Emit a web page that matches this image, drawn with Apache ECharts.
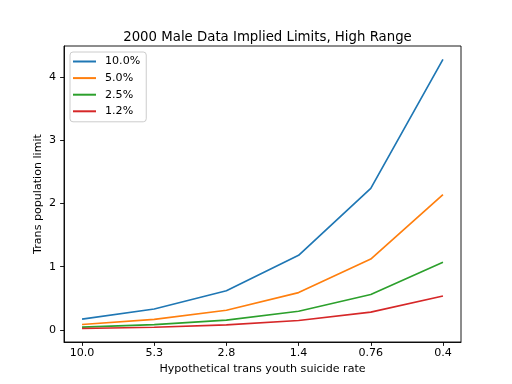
<!DOCTYPE html>
<html>
<head>
<meta charset="utf-8">
<script src="https://cdn.jsdelivr.net/npm/echarts@6/dist/echarts.min.js"></script>
<style>html,body{margin:0;padding:0;background:#fff;}#c{width:512px;height:384px;}</style>
</head>
<body>
<div id="c"></div>
<script>
var categories = ['10.0', '5.3', '2.8', '1.4', '0.76', '0.4'];
var seriesNames = ['10.0%', '5.0%', '2.5%', '1.2%'];
var s10 = [0.17, 0.33, 0.62, 1.18, 2.24, 4.28];
var s5 = [0.085, 0.165, 0.31, 0.59, 1.12, 2.14];
var s25 = [0.043, 0.083, 0.155, 0.295, 0.56, 1.07];
var s12 = [0.021, 0.041, 0.078, 0.148, 0.28, 0.535];
var yTicks = [0, 1, 2, 3, 4];
var colors = ['#1f77b4', '#ff7f0e', '#2ca02c', '#d62728'];

var allData = [s10, s5, s25, s12];
var font = 'DejaVu Sans';
var chart = echarts.init(document.getElementById('c'), null, {renderer: 'canvas'});
var xIdx = categories.map(function (c, i) { return i; });

chart.setOption({
  animation: false,
  backgroundColor: '#fff',
  color: colors,
  title: {
    text: '2000 Male Data Implied Limits, High Range',
    left: 262.5,
    textAlign: 'center',
    top: 26,
    textStyle: {fontFamily: font, fontSize: 13.3, fontWeight: 'normal', color: '#000'}
  },
  grid: {
    left: 64, right: 51, top: 46, bottom: 42,
    show: true, borderColor: '#000', borderWidth: 0.9, backgroundColor: 'transparent'
  },
  legend: {
    orient: 'vertical',
    left: 70, top: 52,
    padding: [3, 6, 4, 3],
    itemWidth: 23, itemHeight: 2,
    itemGap: 3.6,
    icon: 'rect',
    borderColor: '#cccccc', borderWidth: 1, borderRadius: 3,
    backgroundColor: 'rgba(255,255,255,0.8)',
    textStyle: {fontFamily: font, fontSize: 11.1, color: '#000', lineHeight: 13, padding: [0, 0, 0, 4]},
    data: seriesNames
  },
  xAxis: {
    type: 'value',
    min: -0.25, max: 5.25,
    name: 'Hypothetical trans youth suicide rate',
    nameLocation: 'middle',
    nameGap: 22,
    nameMoveOverlap: false,
    nameTextStyle: {fontFamily: font, fontSize: 11.1, color: '#000'},
    axisLine: {show: true, onZero: false, lineStyle: {color: '#000', width: 0.9}},
    axisTick: {show: true, length: 3.9, customValues: xIdx, lineStyle: {color: '#000', width: 0.9}},
    axisLabel: {
      customValues: xIdx, margin: 6,
      fontFamily: font, fontSize: 11.1, color: '#000',
      formatter: function (v) { return categories[Math.round(v)]; }
    },
    splitLine: {show: false}
  },
  yAxis: {
    type: 'value',
    min: -0.192, max: 4.492,
    name: 'Trans population limit',
    nameLocation: 'middle',
    nameGap: 20,
    nameMoveOverlap: false,
    nameTextStyle: {fontFamily: font, fontSize: 11.1, color: '#000'},
    axisLine: {show: true, onZero: false, lineStyle: {color: '#000', width: 0.9}},
    axisTick: {show: true, length: 3.9, customValues: yTicks, lineStyle: {color: '#000', width: 0.9}},
    axisLabel: {
      customValues: yTicks, margin: 8,
      fontFamily: font, fontSize: 11.1, color: '#000'
    },
    splitLine: {show: false}
  },
  series: allData.map(function (d, k) {
    return {
      name: seriesNames[k],
      type: 'line',
      showSymbol: false,
      symbol: 'none',
      lineStyle: {width: 1.67, color: colors[k]},
      itemStyle: {color: colors[k]},
      data: d.map(function (v, i) { return [xIdx[i], v]; })
    };
  })
});
</script>
</body>
</html>
